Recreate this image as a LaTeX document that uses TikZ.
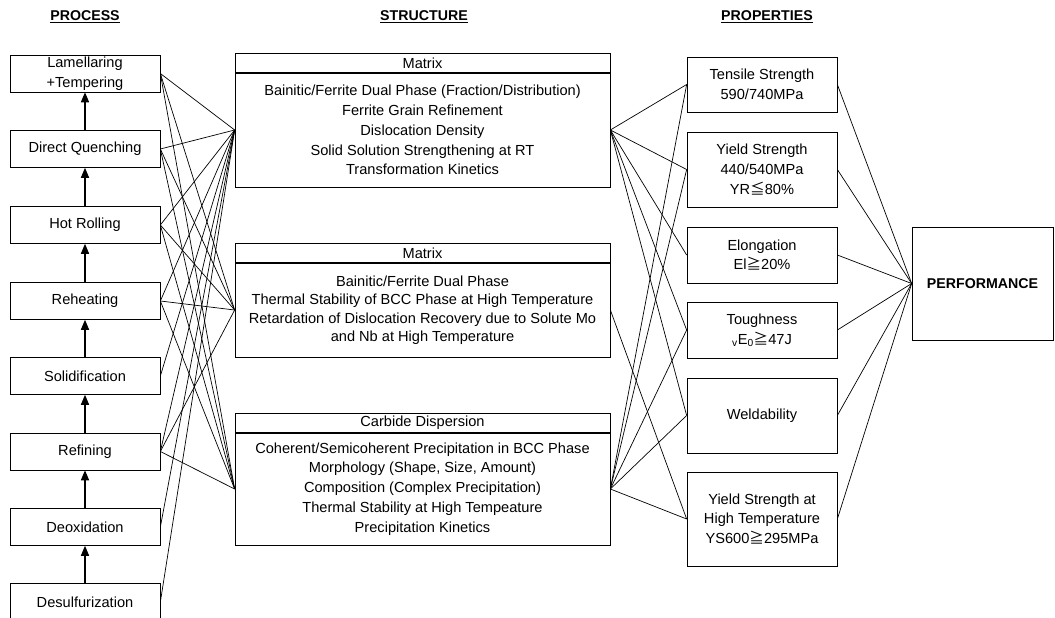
\documentclass[tikz,border=0pt]{standalone}
\usepackage{fontspec}
\setmainfont{Liberation Sans}
\newfontfamily\cjk{Noto Sans CJK JP}
\usetikzlibrary{arrows,positioning}
\newcommand{\geqj}{{\cjk ≧}}
\newcommand{\leqj}{{\cjk ≦}}

\begin{document}
\begin{tikzpicture}[x=1pt,y=-1pt,line width=0.7pt,
    font=\fontsize{14.6}{19.8}\selectfont,
    head/.style={font=\fontsize{14.2}{16}\selectfont\bfseries},
    proc/.style={draw,minimum width=150pt,minimum height=37pt,align=center,inner sep=1pt},
    sbody/.style={draw,minimum width=375pt,align=center,inner sep=1pt},
    stitle/.style={draw,minimum width=375pt,minimum height=18.5pt,inner sep=0pt},
    prop/.style={draw,minimum width=150pt,align=center,inner sep=1pt}]
  \useasboundingbox (0,0) rectangle (1055,618);

  \node[head] (hproc) at (85,17) {\underline{PROCESS}};
  \node[head] (hstruc) at (424,17) {\underline{STRUCTURE}};
  \node[head] (hprop) at (767,17) {\underline{PROPERTIES}};

  \foreach \n/\y/\t in {lam/73.5/{Lamellaring\\+Tempering}, dq/149/Direct Quenching,
      hr/225/Hot Rolling, reh/301/Reheating, sol/376/Solidification,
      ref/451.5/Refining, deo/527/Deoxidation, des/602/Desulfurization}
    \node[proc] (\n) at (85,\y) {\t};
  \foreach \a/\b in {des/deo, deo/ref, ref/sol, sol/reh, reh/hr, hr/dq, dq/lam}
    \draw[-triangle 45,line width=1.3pt] (\a) -- (\b);

  \node[sbody,minimum height=114pt] (m1) at (422.5,130) {Bainitic/Ferrite Dual Phase (Fraction/Distribution)\\
    Ferrite Grain Refinement\\ Dislocation Density\\ Solid Solution Strengthening at RT\\
    Transformation Kinetics};
  \node[stitle,above=0pt of m1] (t1) {Matrix};
  \node[sbody,minimum height=94pt,font=\fontsize{14.6}{18.5}\selectfont] (m2) at (422.5,310) {Bainitic/Ferrite Dual Phase\\
    Thermal Stability of BCC Phase at High Temperature\\
    Retardation of Dislocation Recovery due to Solute Mo\\ and Nb at High Temperature};
  \node[stitle,above=0pt of m2] (t2) {Matrix};
  \node[sbody,minimum height=112pt] (m3) at (422.5,489) {Coherent/Semicoherent Precipitation in BCC Phase\\
    Morphology (Shape, Size, Amount)\\ Composition (Complex Precipitation)\\
    Thermal Stability at High Tempeature\\ Precipitation Kinetics};
  \node[stitle,above=0pt of m3] (t3) {Carbide Dispersion};

  \node[prop,minimum height=55pt] (ts) at (762,84.5) {Tensile Strength\\ 590/740MPa};
  \node[prop,minimum height=75pt] (ys) at (762,169.5) {Yield Strength\\ 440/540MPa\\ YR\leqj 80\%};
  \node[prop,minimum height=56pt] (el) at (762,255) {Elongation\\ El\geqj 20\%};
  \node[prop,minimum height=56pt] (tn) at (762,330) {Toughness\\ \textsubscript{v}E\textsubscript{0}\geqj 47J};
  \node[prop,minimum height=75pt] (wd) at (762,415.5) {Weldability};
  \node[prop,minimum height=94pt] (ht) at (762,519) {Yield Strength at\\ High Temperature\\ YS600\geqj 295MPa};

  \node[draw,minimum width=141pt,minimum height=113pt,head] (perf) at (982.5,283.5) {PERFORMANCE};

  \foreach \p/\s in {lam/m1, lam/m2, lam/m3, dq/m1, dq/m2, dq/m3, hr/m1, hr/m2, hr/m3,
      reh/m1, reh/m2, reh/m3, sol/m1, ref/m1, ref/m2, ref/m3, deo/m1, des/m1}
    \draw (\p.east) -- (\s.west);
  \foreach \s/\p in {m1/ts, m1/ys, m1/el, m1/tn, m1/wd, m2/ht,
      m3/ts, m3/ys, m3/tn, m3/wd, m3/ht}
    \draw (\s.east) -- (\p.west);
  \foreach \p in {ts, ys, el, tn, wd, ht}
    \draw (\p.east) -- (perf.west);
\end{tikzpicture}
\end{document}
